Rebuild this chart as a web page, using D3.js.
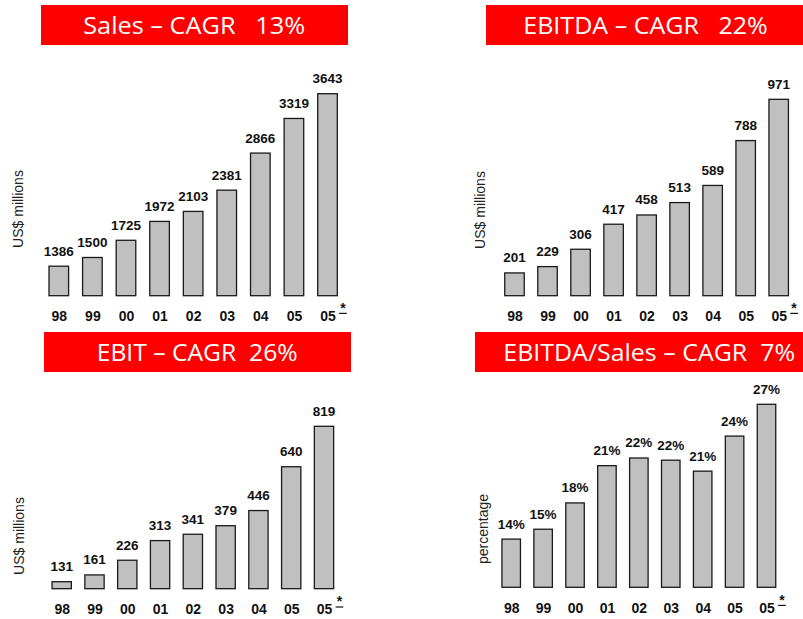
<!DOCTYPE html>
<html>
<head>
<meta charset="utf-8">
<script src="https://cdn.jsdelivr.net/npm/d3@7"></script>
<style>
  html, body { margin: 0; padding: 0; background: #fff; }
  svg { display: block; }
</style>
</head>
<body>
<svg id="chart" width="803" height="619"></svg>
<script>
// Fiscal years on the x axis; the last bar is the annualised 2005 figure (05*)
const tickLabels = ["98", "99", "00", "01", "02", "03", "04", "05", "05"];

// US$ millions
const salesValues  = [1386, 1500, 1725, 1972, 2103, 2381, 2866, 3319, 3643];
const ebitdaValues = [201, 229, 306, 417, 458, 513, 589, 788, 971];
const ebitValues   = [131, 161, 226, 313, 341, 379, 446, 640, 819];
// EBITDA margin, percent
const marginValues = [14.4, 15.3, 17.7, 21.1, 21.8, 21.6, 20.6, 23.8, 26.7];

const panelTitles = [
  "Sales \u2013 CAGR   13%",
  "EBITDA \u2013 CAGR   22%",
  "EBIT \u2013 CAGR  26%",
  "EBITDA/Sales \u2013 CAGR  7%"
];
const axisTitles = ["US$ millions", "US$ millions", "US$ millions", "percentage"];

const svg = d3.select("#chart");

const panels = [
  { title: panelTitles[0], values: salesValues,  yMin: 1000, fmt: d => d,
    box: [41, 5, 307, 40], titleW: 222, titleCx: 194.2,
    axisTitle: axisTitles[0], atX: 18, atY: 209,
    xr: [58.8, 327.5], barW: 19.6, base: 295.7, top: 93.7, tickY: 315.7 },
  { title: panelTitles[1], values: ebitdaValues, yMin: 100, fmt: d => d,
    box: [486, 5, 317, 40], titleW: 244.4, titleCx: 645.5,
    axisTitle: axisTitles[1], atX: 480, atY: 210,
    xr: [514.5, 778.7], barW: 19.5, base: 295.7, top: 99.3, tickY: 315.7 },
  { title: panelTitles[2], values: ebitValues,   yMin: 100, fmt: d => d,
    box: [44, 332, 307, 40], titleW: 201, titleCx: 197.2,
    axisTitle: axisTitles[2], atX: 18.7, atY: 536,
    xr: [61.7, 324], barW: 19.3, base: 588.7, top: 426.3, tickY: 609.3 },
  { title: panelTitles[3], values: marginValues, yMin: 10, fmt: d => d3.format(".0f")(d) + "%",
    box: [475, 332, 328, 40], titleW: 291.7, titleCx: 649.2,
    axisTitle: axisTitles[3], atX: 483.3, atY: 529,
    xr: [511.2, 766.5], barW: 18.5, base: 587.3, top: 404.3, tickY: 607.7 }
];

panels.forEach(p => {
  const g = svg.append("g");

  // red title banner
  g.append("rect")
    .attr("x", p.box[0]).attr("y", p.box[1])
    .attr("width", p.box[2]).attr("height", p.box[3])
    .attr("fill", "#ff0000");
  g.append("text")
    .attr("x", p.titleCx).attr("y", p.box[1] + p.box[3] / 2 + 8.5)
    .attr("text-anchor", "middle")
    .attr("textLength", p.titleW)
    .attr("lengthAdjust", "spacingAndGlyphs")
    .style("white-space", "pre")
    .style("font-family", "'Open Sans', sans-serif")
    .style("font-size", "24.5px")
    .attr("fill", "#fff")
    .text(p.title);

  const idx = d3.range(p.values.length);
  const x = d3.scalePoint().domain(idx).range(p.xr);
  const y = d3.scaleLinear().domain([p.yMin, d3.max(p.values)]).range([p.base, p.top]);

  // bars
  g.selectAll("rect.bar").data(p.values).join("rect")
    .attr("class", "bar")
    .attr("x", (d, i) => x(i) - p.barW / 2)
    .attr("width", p.barW)
    .attr("y", d => y(d))
    .attr("height", d => p.base - y(d))
    .attr("fill", "#c0c0c0")
    .attr("stroke", "#1a1a1a")
    .attr("stroke-width", 1.3);

  // value labels
  g.selectAll("text.val").data(p.values).join("text")
    .attr("class", "val")
    .attr("x", (d, i) => x(i))
    .attr("y", d => y(d) - 10.5)
    .attr("text-anchor", "middle")
    .style("font-family", "'Liberation Sans', Arial, sans-serif")
    .style("font-size", "13.5px")
    .style("font-weight", "bold")
    .attr("fill", "#111")
    .text(d => p.fmt(d));

  // year axis
  const axis = d3.axisBottom(x)
    .tickSize(0)
    .tickPadding(p.tickY - p.base - 5)
    .tickFormat(i => tickLabels[i]);
  const ax = g.append("g")
    .attr("transform", `translate(0,${p.base})`)
    .call(axis);
  ax.select(".domain").remove();
  ax.selectAll("text")
    .style("font-family", "'Liberation Sans', Arial, sans-serif")
    .style("font-size", "14px")
    .style("font-weight", "bold")
    .attr("fill", "#111");

  // footnote mark next to the last year
  const lx = x(idx[idx.length - 1]);
  g.append("text")
    .attr("x", lx + 15.4).attr("y", p.tickY - 3)
    .attr("text-anchor", "middle")
    .style("font-family", "'Liberation Sans', Arial, sans-serif")
    .style("font-size", "14px")
    .style("font-weight", "bold")
    .attr("fill", "#111")
    .text("*");
  g.append("line")
    .attr("x1", lx + 11.6).attr("x2", lx + 19.3)
    .attr("y1", p.tickY - 2.3).attr("y2", p.tickY - 2.3)
    .attr("stroke", "#111").attr("stroke-width", 1.2);

  // value axis title
  g.append("text")
    .attr("transform", `translate(${p.atX + 5},${p.atY}) rotate(-90)`)
    .attr("text-anchor", "middle")
    .style("font-family", "'Liberation Sans', Arial, sans-serif")
    .style("font-size", "14px")
    .attr("fill", "#222")
    .text(p.axisTitle);
});
</script>
</body>
</html>
